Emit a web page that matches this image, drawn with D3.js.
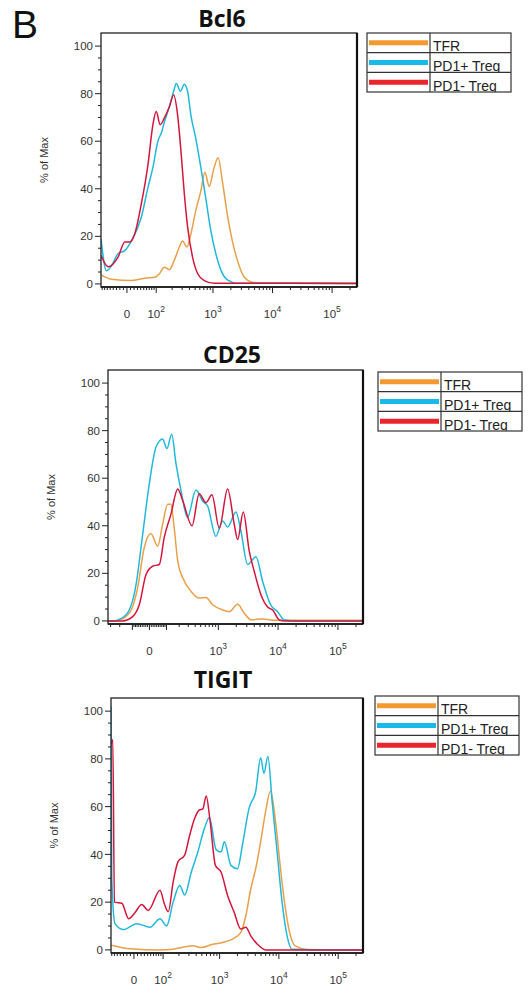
<!DOCTYPE html>
<html><head><meta charset="utf-8">
<script src="https://cdn.jsdelivr.net/npm/d3@7"></script>
<style>body{margin:0;background:#fff}svg{display:block}</style>
</head><body>
<svg id="chart" width="530" height="991"></svg>
<script>
// ---------- data ----------
const seriesNames = ["TFR", "PD1+ Treg", "PD1- Treg"];
const curveColors = ["#e9a04a", "#22b8dc", "#d4163c"];
const legendColors = ["#f29a30", "#19b9e9", "#e8262c"];
const panelTitles = ["Bcl6", "CD25", "TIGIT"];
const yTickLabels = [0, 20, 40, 60, 80, 100];
const xLabelsFull = [0, 1e2, 1e3, 1e4, 1e5];
const xLabelsCD25 = [0, 1e3, 1e4, 1e5];

// Bcl6 : [fluorescence, % of Max]
const bcl6TFR = [[-85,3.8],[-46,2],[12,1.4],[53,2.4],[93,2.8],[117,4.4],[144,7],[179,6],[219,10],[268,15.5],[306,18],[362,15.5],[423,21],[514,31],[624,39],[730,47],[863,41],[1047,49],[1222,53],[1442,43],[1747,29],[2117,18],[2567,10],[3320,3],[4565,0.7],[6000,0.4],[20000,0.4],[262144,0.4]];
const bcl6PD1pos = [[-85,19],[-63,5.5],[-46,7.5],[-25,12.8],[-6,14],[12,18],[42,28],[65,40.5],[85,49],[108,60],[129,64],[144,68],[179,74.6],[213,81],[237,84.3],[279,81],[327,84],[372,81],[423,71],[514,61],[624,49],[757,36],[918,22.5],[1114,12.8],[1351,6],[1747,1.7],[2567,0.3],[262144,0.2]];
const bcl6PD1neg = [[-85,12],[-57,7.2],[-25,11.4],[-6,17.6],[7.5,17.6],[22,21],[42,33.6],[65,50],[85,67],[100,72.5],[120,67],[144,69.7],[179,74.6],[213,79.4],[250,71],[286,55.8],[327,37.8],[372,24],[451,11.4],[550,4.4],[713,1.4],[1047,0.3],[262144,0.2]];

// CD25
const cd25TFR = [[-335,0],[-237,0],[-122,3.2],[-67,13.8],[-29,30.7],[8,36.8],[45.5,31.4],[75,40.6],[108,49],[131,49],[157,39],[187,25],[237,18],[337,12.4],[470,9.6],[616,9.8],[801,6.8],[1183,4.6],[1526,3.9],[2110,7],[2721,3.2],[3522,0.5],[5527,0.8],[8121,0.3],[262144,0.3]];
const cd25PD1pos = [[-335,0],[-276,0],[-147,2.5],[-77,15],[-38,36],[-1,57.5],[36,73],[75,76.5],[103,72.5],[137,78.5],[172,66],[219,54.6],[290,43.5],[412,55],[540,50.4],[658,48.3],[908,35.6],[1183,42],[1434,39.5],[1977,45.8],[2396,37.7],[3101,23.7],[4270,27],[5527,16.6],[7604,6.5],[9841,3.9],[12550,0.5],[20000,0],[262144,0]];
const cd25PD1neg = [[-335,0],[-173,0],[-98,1.8],[-57,6.8],[-19,19.4],[17.5,23],[55,23.7],[85,35],[131,44.8],[187,55.5],[237,50.4],[352,40],[470,53.5],[616,49.7],[779,53],[1037,39],[1434,55.5],[1850,40.6],[2110,34.2],[2618,45.8],[3299,29.3],[4000,20.8],[5174,11],[6698,5.8],[8121,4.6],[10465,0.4],[13000,0],[262144,0]];

// TIGIT
const tigitTFR = [[-73,2],[-10,0.5],[86,0],[157,0.3],[351,1.7],[488,1.0],[765,2.4],[1125,3.1],[1654,4.5],[2285,7.3],[2770,14.3],[3359,25.6],[4070,34],[4932,45.3],[5980,58],[7250,66.5],[8786,53.7],[10650,34],[12910,17.2],[15644,6],[18960,1.7],[34100,0],[262144,0]];
const tigitPD1pos = [[-73,102],[-70,30],[-58,11],[-30,8.5],[8,11],[48,9.5],[86,13],[118,10],[157,20],[207,27],[253,23],[330,32.6],[427,41],[555,51],[673,55.5],[873,42],[1058,41],[1202,45.3],[1554,35.4],[2005,34],[2431,44],[3145,59.4],[4070,66.4],[4932,80.5],[5600,74],[6533,81],[7710,62],[9344,41],[11325,20],[13725,6],[16640,0.3],[262144,0]];
const tigitPD1neg = [[-73,86],[-66,88],[-60,20],[-35,19.5],[-15,13],[3.3,15.7],[22,19],[42,16.5],[86,25],[106,19.3],[127,16],[157,28.4],[193,37],[253,39.7],[309,48],[376,55],[454,58.6],[519,59],[593,64.5],[692,53.7],[849,35.4],[1058,32.6],[1364,22.8],[1766,15.7],[2285,8.7],[2770,9.5],[3359,5.9],[4327,2.4],[5980,0],[262144,0]];

// ---------- layout ----------
const panels = [
  {title: panelTitles[0], tx: 222, ty: 27, left: 101, right: 357, top: 33, bottom: 287, c: 72, xmin: -85, xLabels: xLabelsFull, lx: 367, ly: 33, ldiv: 430, series: [bcl6TFR, bcl6PD1pos, bcl6PD1neg]},
  {title: panelTitles[1], tx: 232, ty: 363, left: 108, right: 363, top: 370, bottom: 624, c: 142, xmin: -335, xLabels: xLabelsCD25, lx: 378, ly: 372, ldiv: 441, series: [cd25TFR, cd25PD1pos, cd25PD1neg]},
  {title: panelTitles[2], tx: 223, ty: 688, left: 111, right: 363, top: 698, bottom: 953, c: 72, xmin: -73, xLabels: xLabelsFull, lx: 375, ly: 696, ldiv: 438, series: [tigitTFR, tigitPD1pos, tigitPD1neg]}
];
const XMAX = 262144;
const LEG_W = 144, LEG_H = 59;
const FONT = "'Liberation Sans', Arial, sans-serif";

const svg = d3.select("#chart");
svg.append("text").attr("x", 12).attr("y", 38).attr("font-family", FONT)
  .attr("font-size", 39).attr("fill", "#111").text("B");

const defs = svg.append("defs");

panels.forEach((p, pi) => {
  const T = v => Math.asinh(v / p.c) / Math.LN10;
  const xl = d3.scaleLinear().domain([T(p.xmin), T(XMAX)]).range([p.left, p.right]);
  const x = v => xl(T(v));
  const y = d3.scaleLinear().domain([-1.3, 105.5]).range([p.bottom, p.top]);
  const g = svg.append("g");

  // title
  g.append("text").attr("x", p.tx).attr("y", p.ty).attr("text-anchor", "middle")
    .attr("font-family", "'Open Sans', sans-serif").attr("font-weight", 700).attr("font-size", 23)
    .attr("fill", "#111").text(p.title);

  // curves
  const line = d3.line().x(d => x(d[0])).y(d => y(d[1])).curve(d3.curveMonotoneX);
  defs.append("clipPath").attr("id", "clip" + pi).append("rect")
    .attr("x", p.left).attr("y", p.top).attr("width", p.right - p.left).attr("height", p.bottom - p.top);
  const cg = g.append("g").attr("clip-path", `url(#clip${pi})`);
  [0, 1, 2].forEach(si => {
    cg.append("path").datum(p.series[si]).attr("d", line).attr("fill", "none")
      .attr("stroke", curveColors[si]).attr("stroke-width", 1.5).attr("stroke-linejoin", "round");
  });

  // frame
  g.append("rect").attr("x", p.left).attr("y", p.top).attr("width", p.right - p.left)
    .attr("height", p.bottom - p.top).attr("fill", "none").attr("stroke", "#222").attr("stroke-width", 1.3);
  g.append("line").attr("x1", p.right).attr("x2", p.right).attr("y1", p.top).attr("y2", p.bottom)
    .attr("stroke", "#111").attr("stroke-width", 2.2);
  g.append("line").attr("x1", p.left).attr("x2", p.right).attr("y1", p.bottom).attr("y2", p.bottom)
    .attr("stroke", "#111").attr("stroke-width", 1.6);

  // y ticks
  const yMinor = d3.range(0, 101, 5);
  g.selectAll(null).data(yMinor).join("line")
    .attr("x1", d => p.left - (d % 20 === 0 ? 6 : 3)).attr("x2", p.left)
    .attr("y1", d => y(d)).attr("y2", d => y(d)).attr("stroke", "#222").attr("stroke-width", 1);
  g.selectAll(null).data(yTickLabels).join("text")
    .attr("x", p.left - 8).attr("y", d => y(d)).attr("dy", "0.36em").attr("text-anchor", "end")
    .attr("font-family", FONT).attr("font-size", 11.5).attr("fill", "#333").text(d => d);
  g.append("text").attr("transform", `translate(${p.left - 53},${(p.top + p.bottom) / 2}) rotate(-90)`)
    .attr("text-anchor", "middle").attr("font-family", FONT).attr("font-size", 11)
    .attr("fill", "#333").text("% of Max");

  // x ticks
  const xt = [0];
  for (let k = 1; k <= 5; k++) for (let m = 1; m <= 9; m++) {
    const v = m * Math.pow(10, k);
    if (v <= XMAX) xt.push(v);
    if (-v >= p.xmin) xt.push(-v);
  }
  const isMajor = v => v === 0 || (Math.abs(v) >= 100 && Number.isInteger(Math.log10(Math.abs(v))));
  g.selectAll(null).data(xt).join("line")
    .attr("x1", d => x(d)).attr("x2", d => x(d)).attr("y1", p.bottom)
    .attr("y2", d => p.bottom + (isMajor(d) ? 6 : 3)).attr("stroke", "#222").attr("stroke-width", 1);
  const lab = g.selectAll(null).data(p.xLabels).join("text")
    .attr("x", d => x(d)).attr("y", p.bottom + 31).attr("text-anchor", "middle")
    .attr("font-family", FONT).attr("font-size", 11.5).attr("fill", "#333");
  lab.each(function (d) {
    const t = d3.select(this);
    if (d === 0) { t.text("0"); return; }
    t.append("tspan").text("10");
    t.append("tspan").attr("dy", -6).attr("font-size", 8.5).text(Math.round(Math.log10(d)));
  });

  // legend
  const lg = g.append("g");
  const rh = LEG_H / 3;
  seriesNames.forEach((name, i) => {
    const ry = p.ly + i * rh;
    const cid = `lc${pi}_${i}`;
    defs.append("clipPath").attr("id", cid).append("rect")
      .attr("x", p.ldiv).attr("y", ry).attr("width", p.lx + LEG_W - p.ldiv).attr("height", rh);
    lg.append("line").attr("x1", p.lx + 2).attr("x2", p.ldiv - 2)
      .attr("y1", ry + rh / 2).attr("y2", ry + rh / 2)
      .attr("stroke", legendColors[i]).attr("stroke-width", 5);
    lg.append("text").attr("x", p.ldiv + 3).attr("y", ry + rh - 1.5)
      .attr("clip-path", `url(#${cid})`)
      .attr("font-family", FONT).attr("font-size", 14).attr("fill", "#222").text(name);
    if (i > 0) lg.append("line").attr("x1", p.lx).attr("x2", p.lx + LEG_W)
      .attr("y1", ry).attr("y2", ry).attr("stroke", "#333").attr("stroke-width", 1.2);
  });
  lg.append("rect").attr("x", p.lx).attr("y", p.ly).attr("width", LEG_W).attr("height", LEG_H)
    .attr("fill", "none").attr("stroke", "#333").attr("stroke-width", 1.2);
  lg.append("line").attr("x1", p.ldiv).attr("x2", p.ldiv).attr("y1", p.ly).attr("y2", p.ly + LEG_H)
    .attr("stroke", "#333").attr("stroke-width", 1.2);
});
</script>
</body></html>
